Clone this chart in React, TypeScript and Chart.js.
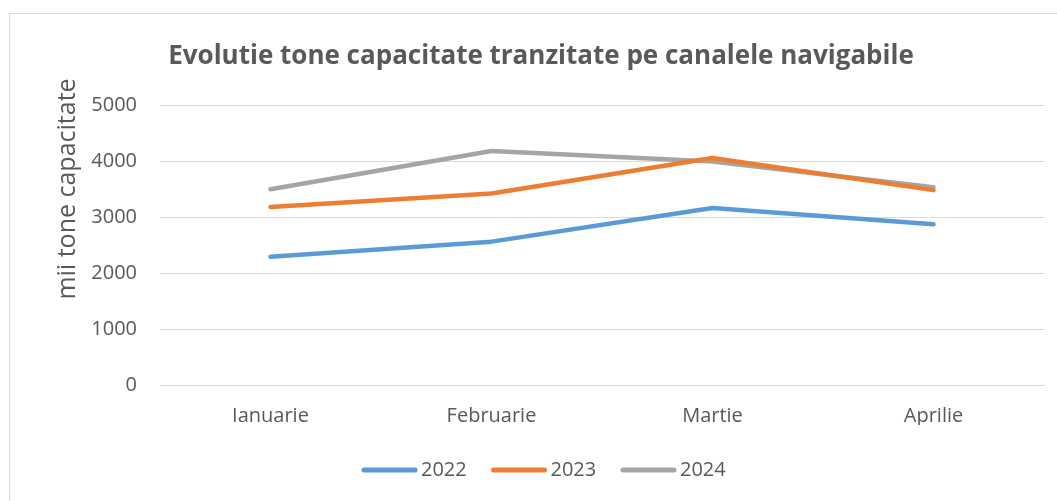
import React, { useEffect, useRef } from "react";
import { Chart, registerables } from "chart.js";

Chart.register(...registerables);

const categories = ["Ianuarie", "Februarie", "Martie", "Aprilie"];
const seriesNames = ["2022", "2023", "2024"];
const values2022 = [2290, 2560, 3160, 2870];
const values2023 = [3180, 3420, 4055, 3480];
const values2024 = [3495, 4180, 3990, 3530];
const yTicks = [0, 1000, 2000, 3000, 4000, 5000];
const seriesColors = ["#5B9BD5", "#ED7D31", "#A5A5A5"];
const chartTitle = "Evolutie tone capacitate tranzitate pe canalele navigabile";
const yTitle = "mii tone capacitate";

const FONT = "'Open Sans', sans-serif";
const TEXT = "#595959";

const decorPlugin = {
  id: "decor",
  beforeDraw(chart: any) {
    const ctx = chart.ctx;
    ctx.save();
    ctx.fillStyle = "#ffffff";
    ctx.fillRect(0, 0, chart.width, chart.height);
    ctx.strokeStyle = "#d9d9d9";
    ctx.lineWidth = 1;
    ctx.strokeRect(9.5, 13.5, 1200, 700);
    ctx.restore();
  },
  afterDraw(chart: any) {
    const ctx = chart.ctx;
    ctx.save();
    // title
    ctx.fillStyle = TEXT;
    ctx.font = `bold 26px ${FONT}`;
    ctx.textAlign = "center";
    ctx.textBaseline = "alphabetic";
    ctx.fillText(chartTitle, 541, 64);
    // y axis title
    ctx.save();
    ctx.translate(75, 189);
    ctx.rotate(-Math.PI / 2);
    ctx.font = `25px ${FONT}`;
    ctx.textAlign = "center";
    ctx.textBaseline = "alphabetic";
    ctx.fillText(yTitle, 0, 0);
    ctx.restore();
    // legend
    const ds = chart.data.datasets;
    let x = 362;
    const y = 470;
    ctx.font = `20px ${FONT}`;
    ctx.textAlign = "left";
    ctx.textBaseline = "middle";
    ds.forEach((d: any) => {
      ctx.strokeStyle = d.borderColor;
      ctx.lineWidth = 5;
      ctx.lineCap = "round";
      ctx.beginPath();
      ctx.moveTo(x + 2, y);
      ctx.lineTo(x + 53, y);
      ctx.stroke();
      ctx.fillStyle = TEXT;
      ctx.fillText(d.label, x + 59, y);
      x += 129.5;
    });
    ctx.restore();
  },
};

export default function App() {
  const ref = useRef<HTMLCanvasElement | null>(null);
  useEffect(() => {
    if (!ref.current) return;
    const allValues = [values2022, values2023, values2024];
    const chart = new Chart(ref.current, {
      type: "line",
      data: {
        labels: categories,
        datasets: seriesNames.map((name, i) => ({
          label: name,
          data: allValues[i],
          borderColor: seriesColors[i],
          backgroundColor: seriesColors[i],
          borderWidth: 4.5,
          borderCapStyle: "round",
          borderJoinStyle: "round",
          pointRadius: 0,
          pointHoverRadius: 0,
          tension: 0,
          fill: false,
        })),
      },
      options: {
        animation: false,
        responsive: false,
        devicePixelRatio: 1,
        layout: { padding: { left: 0, top: 105, right: 13, bottom: 76 } },
        plugins: {
          legend: { display: false },
          title: { display: false },
          tooltip: { enabled: false },
        },
        scales: {
          x: {
            offset: true,
            grid: { display: false, drawTicks: false },
            border: { display: true, color: "#d9d9d9", width: 1 },
            ticks: { color: TEXT, font: { family: FONT, size: 20 }, padding: 19 },
            afterFit(scale: any) {
              scale.height = 40;
            },
          },
          y: {
            min: yTicks[0],
            max: yTicks[yTicks.length - 1],
            afterBuildTicks(scale: any) {
              scale.ticks = yTicks.map((v) => ({ value: v }));
            },
            ticks: {
              color: TEXT,
              font: { family: FONT, size: 20 },
              padding: 23,
              callback: (v: any) => String(v),
            },
            grid: { color: "#d9d9d9", lineWidth: 1, drawTicks: false },
            border: { display: false },
            afterFit(scale: any) {
              scale.width = 160;
            },
          },
        },
      } as any,
      plugins: [decorPlugin],
    });
    return () => chart.destroy();
  }, []);
  return (
    <div style={{ position: "fixed", left: 0, top: 0, width: 1057, height: 501, overflow: "hidden", background: "#fff" }}>
      <canvas ref={ref} width={1057} height={501} style={{ display: "block", width: 1057, height: 501 }} />
    </div>
  );
}
